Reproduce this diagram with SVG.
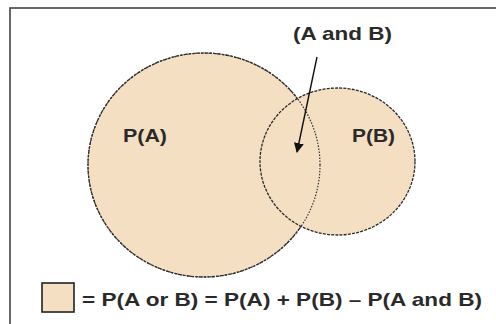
<svg xmlns="http://www.w3.org/2000/svg" width="496" height="324" viewBox="0 0 496 324">
<style>
.t{font-family:"Liberation Sans",Arial,sans-serif;font-weight:bold;fill:#2a2a2a;}
.fill{fill:#F4DFC2;}
.edge{fill:none;stroke:#2a2a2a;stroke-width:1.3;stroke-dasharray:3 1.2;}
</style>
<defs>
<marker id="ah" viewBox="0 0 10 10" refX="9" refY="5" markerWidth="10" markerHeight="10" orient="auto" markerUnits="userSpaceOnUse">
<path d="M0,0 L10,5 L0,10 z" fill="#111"/>
</marker>
</defs>
<rect x="0" y="0" width="496" height="324" fill="#fff"/>
<rect x="10" y="8" width="500" height="330" fill="#fff" stroke="#444" stroke-width="1.6"/>
<g id="circleA">
<ellipse class="fill" cx="204" cy="165" rx="116" ry="112"/>
<ellipse class="edge" cx="204" cy="165" rx="116" ry="112"/>
<text class="t" x="123" y="142" font-size="19" textLength="44" lengthAdjust="spacingAndGlyphs">P(A)</text>
</g>
<g id="circleB">
<ellipse class="fill" cx="337.5" cy="161.5" rx="77.5" ry="73.5"/>
<ellipse class="edge" cx="337.5" cy="161.5" rx="77.5" ry="73.5"/>
<ellipse cx="204" cy="165" rx="116" ry="112" fill="none" stroke="#333" stroke-width="1.2" stroke-dasharray="1.5 1.5"/>
<text class="t" x="352" y="142" font-size="19" textLength="43" lengthAdjust="spacingAndGlyphs">P(B)</text>
</g>
<g id="label-AB">
<text class="t" x="293" y="40" font-size="19" textLength="99" lengthAdjust="spacingAndGlyphs">(A and B)</text>
</g>
<g id="connectors">
<line x1="317" y1="57" x2="297" y2="152" stroke="#111" stroke-width="1.4" marker-end="url(#ah)"/>
</g>
<g id="legend">
<rect x="42" y="283" width="32" height="29" fill="#F4DFC2" stroke="#222" stroke-width="1.6"/>
<text class="t" x="82" y="306" font-size="19" textLength="400" lengthAdjust="spacingAndGlyphs">= P(A or B) = P(A) + P(B) – P(A and B)</text>
</g>
</svg>
